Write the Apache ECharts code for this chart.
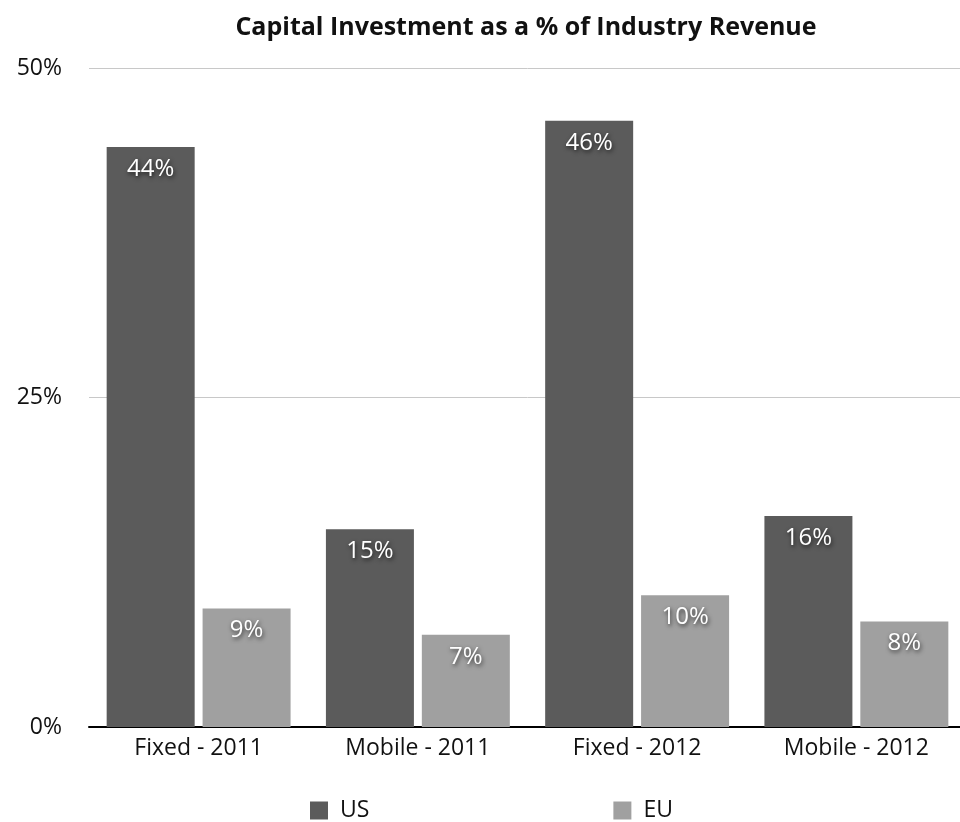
<!DOCTYPE html>
<html>
<head>
<meta charset="utf-8">
<script src="https://cdn.jsdelivr.net/npm/echarts@6/dist/echarts.min.js"></script>
<style>
  html, body { margin: 0; padding: 0; background: #fff; overflow: hidden; }
  #chart { width: 968px; height: 822px; }
</style>
</head>
<body>
<div id="chart"></div>
<script>
// Capital investment as a share of industry revenue, US vs EU
const categories = ['Fixed - 2011', 'Mobile - 2011', 'Fixed - 2012', 'Mobile - 2012'];
const usValues = [44, 15, 46, 16];
const euValues = [9, 7, 10, 8];
const yTicks = [0, 25, 50];

const FONT = '"Open Sans", "Noto Sans", sans-serif';

const barLabel = {
  show: true,
  position: 'insideTop',
  distance: 10,
  color: '#fff',
  fontFamily: FONT,
  fontSize: 24,
  textShadowColor: 'rgba(0,0,0,0.7)',
  textShadowBlur: 4,
  textShadowOffsetX: 1,
  textShadowOffsetY: 2,
  formatter: p => p.value + '%'
};

const chart = echarts.init(document.getElementById('chart'), null, { renderer: 'canvas' });
chart.setOption({
  animation: false,
  backgroundColor: '#fff',
  title: {
    text: 'Capital Investment as a % of Industry Revenue',
    left: 521,
    textAlign: 'center',
    top: 10,
    textStyle: { fontFamily: FONT, fontWeight: 'bold', fontSize: 25, color: '#111' }
  },
  legend: {
    left: 310,
    top: 799,
    padding: 0,
    itemWidth: 18,
    itemHeight: 18,
    itemGap: 244,
    icon: 'rect',
    textStyle: { fontFamily: FONT, fontSize: 23, color: '#111', padding: [0, 0, 0, 7] },
    data: ['US', 'EU']
  },
  grid: { left: 89, right: 2, top: 68, bottom: 95, containLabel: false },
  xAxis: {
    type: 'category',
    data: categories,
    axisLine: { lineStyle: { color: '#000', width: 2 } },
    axisTick: { show: false },
    axisLabel: { fontFamily: FONT, fontSize: 23, color: '#111', margin: 10 }
  },
  yAxis: {
    type: 'value',
    min: yTicks[0],
    max: yTicks[yTicks.length - 1],
    interval: yTicks[1] - yTicks[0],
    axisLine: { show: false },
    axisTick: { show: false },
    axisLabel: { fontFamily: FONT, fontSize: 23, color: '#111', margin: 27, formatter: v => v + '%' },
    splitLine: { lineStyle: { color: '#c8c8c8', width: 1 } }
  },
  series: [
    {
      name: 'US', type: 'bar', data: usValues,
      barWidth: 88, barGap: '9%',
      itemStyle: { color: '#5b5b5b' },
      label: barLabel
    },
    {
      name: 'EU', type: 'bar', data: euValues,
      barWidth: 88,
      itemStyle: { color: '#a0a0a0' },
      label: barLabel
    }
  ]
});
</script>
</body>
</html>
